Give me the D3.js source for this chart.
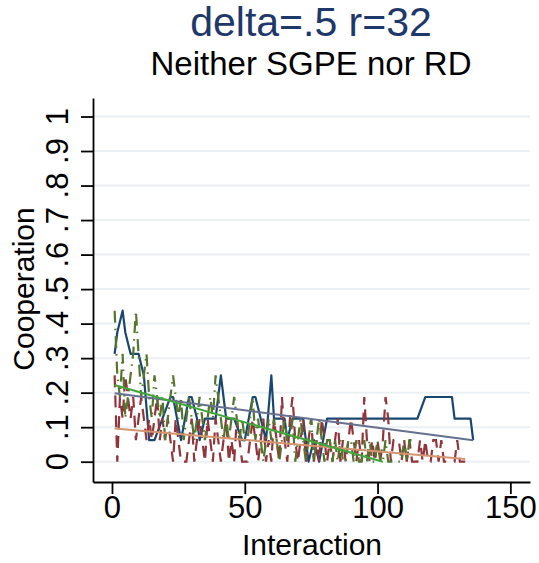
<!DOCTYPE html>
<html>
<head>
<meta charset="utf-8">
<script src="https://cdn.jsdelivr.net/npm/d3@7"></script>
<style>
  body { margin: 0; background: #fff; }
  svg { font-family: "Liberation Sans", Arial, sans-serif; }
</style>
</head>
<body>
<svg id="chart" width="539" height="563"></svg>
<script>
// Titoli
const titolo = "delta=.5 r=32";
const sottotitolo = "Neither SGPE nor RD";
const asseX = "Interaction";
const asseY = "Cooperation";

// Tick
const tickX = [0, 50, 100, 150];
const tickY = [0, .1, .2, .3, .4, .5, .6, .7, .8, .9, 1];
const tickYLabel = ["0", ".1", ".2", ".3", ".4", ".5", ".6", ".7", ".8", ".9", "1"];

// Serie blu (linea continua): vertici
const bluX = [1, 2, 4, 5, 7, 10, 12, 14, 16, 19, 22, 23, 26, 29, 30, 32, 33, 35, 39, 41, 43, 46, 49, 50,
  53, 54, 56, 58, 60, 61, 65, 66, 68, 72, 74, 76, 78, 81, 115, 118, 128, 129, 135, 136];
const bluY = [.3125, .375, .4375, .375, .3125, .3125, .25, .0625, .0625, .125, .1875, .1875, .0625, .1875, .1875, .125, .0625, .125, .125, .25, .125, .125, .0625, .0625,
  .1875, .1875, .125, .0625, .25, .125, .125, .0625, .125, .125, 0, .0625, 0, .125, .125, .1875, .1875, .125, .125, .0625];

// Serie granata (tratteggiata), interazioni 1..133
const granataY = [
  .25, 0, .1875, .125, .25, .1875, .125, .1875, .0625, .125,
  .1875, .125, .0625, .125, .0625, .125, .1875, .0625, .125, .0625,
  .125, .0625, 0, .125, .0625, 0, 0, 0, .0625, .125,
  0, .0625, .125, .0625, 0, .125, .0625, 0, .125, .0625,
  0, .0625, .125, 0, .0625, 0, .125, .0625, 0, 0,
  0, .0625, .125, .0625, 0, .0625, .125, 0, .0625, 0,
  .125, .0625, 0, .1875, .0625, 0, .125, .1875, .0625, 0,
  .0625, .125, 0, .0625, .125, 0, .0625, 0, .125, .0625,
  0, .0625, 0, .0625, .125, 0, .0625, 0, .0625, .125,
  .0625, 0, .0625, 0, .1875, .0625, 0, .0625, 0, .0625,
  0, .0625, .1875, .125, 0, .0625, .0625, .0625, 0, .0625,
  0, .0625, 0, 0, 0, .0625, 0, .0625, 0, 0,
  .0625, .0625, 0, .0625, 0, 0, 0, 0, 0, .0625,
  0, 0, 0
];

// Serie verde (tratto-punto), interazioni 1..113
const verdeY = [
  .4375, .25, .1875, .3125, .125, .1875, .25, .3125, .4375, .3125,
  .1875, .25, .3125, .1875, .125, .25, .1875, .125, .1875, .0625,
  .125, .1875, .25, .1875, .125, .1875, .0625, .125, .1875, .125,
  .0625, .125, .1875, .125, .0625, .125, .1875, .125, .25, .1875,
  .125, .0625, .125, .0625, .125, .1875, .125, .0625, .125, .0625,
  .0625, .125, .1875, .0625, .125, .0625, 0, .0625, .125, .0625,
  .125, .0625, 0, .0625, .125, .0625, .0625, .125, 0, .0625,
  .125, .0625, 0, .0625, .125, 0, .0625, .125, .0625, 0,
  .0625, .0625, 0, .0625, 0, .0625, 0, 0, .0625, .0625,
  0, .0625, 0, 0, .0625, 0, .0625, 0, 0, .0625,
  0, 0, .0625, 0, 0, 0, 0, 0, 0, .0625,
  0, .0625, .0625
];

// Rette di regressione (estremi)
const fitBluX = [1, 136];
const fitBluY = [.198, .062];
const fitGranataX = [1, 133];
const fitGranataY = [.096, .008];
const fitVerdeX = [1, 102];
const fitVerdeY = [.222, 0];

const svg = d3.select("#chart");

// Scale: l'area del grafico va oltre 0..150 e 0..1
const x = d3.scaleLinear().domain([-7.15, 157.4]).range([93, 530]);
const y = d3.scaleLinear().domain([-0.0588, 1.0536]).range([482, 98]);

// Griglia
svg.append("g")
  .selectAll("line")
  .data(tickY)
  .enter()
  .append("line")
  .attr("x1", x.range()[0])
  .attr("x2", x.range()[1])
  .attr("y1", d => y(d))
  .attr("y2", d => y(d))
  .attr("stroke", "#eaf0f3")
  .attr("stroke-width", 2);

// Asse Y
const gY = svg.append("g")
  .attr("transform", "translate(93,0)")
  .call(d3.axisLeft(y).tickValues(tickY).tickSize(12).tickSizeOuter(0).tickFormat(""));
gY.select(".domain").attr("stroke", "#000").attr("stroke-width", 1.8);
gY.selectAll(".tick line").attr("stroke", "#000").attr("stroke-width", 1.8);

svg.append("g")
  .selectAll("text")
  .data(tickY)
  .enter()
  .append("text")
  .attr("transform", (d) => "translate(68," + y(d) + ") rotate(-90)")
  .attr("text-anchor", "middle")
  .attr("font-size", 31)
  .text((d, i) => tickYLabel[i]);

// Asse X
const gX = svg.append("g")
  .attr("transform", "translate(0,482)")
  .call(d3.axisBottom(x).tickValues(tickX).tickSize(12).tickSizeOuter(0).tickFormat(d => d));
gX.select(".domain").attr("stroke", "#000").attr("stroke-width", 1.8);
gX.selectAll(".tick line").attr("stroke", "#000").attr("stroke-width", 1.8);
gX.selectAll(".tick text")
  .attr("font-size", 31)
  .attr("font-family", "Liberation Sans, Arial, sans-serif")
  .attr("fill", "#000")
  .attr("y", 14)
  .attr("dy", "0.71em");

// Etichette assi
svg.append("text")
  .attr("x", 312)
  .attr("y", 555)
  .attr("text-anchor", "middle")
  .attr("font-size", 30)
  .text(asseX);

svg.append("text")
  .attr("transform", "translate(34,289) rotate(-90)")
  .attr("text-anchor", "middle")
  .attr("font-size", 30)
  .text(asseY);

// Titoli
svg.append("text")
  .attr("x", 311)
  .attr("y", 36)
  .attr("text-anchor", "middle")
  .attr("font-size", 41)
  .attr("fill", "#1e3869")
  .text(titolo);

svg.append("text")
  .attr("x", 311)
  .attr("y", 75)
  .attr("text-anchor", "middle")
  .attr("font-size", 33)
  .attr("fill", "#000")
  .text(sottotitolo);

// Linee
const line = d3.line()
  .x(d => x(d[0]))
  .y(d => y(d[1]));

function coppie(xs, ys) {
  return ys.map((v, i) => [xs ? xs[i] : i + 1, v]);
}

svg.append("path")
  .datum(coppie(bluX, bluY))
  .attr("d", line)
  .attr("fill", "none")
  .attr("stroke", "#1a476f")
  .attr("stroke-width", 2.2)
  .attr("stroke-linejoin", "round");

svg.append("path")
  .datum(coppie(null, granataY))
  .attr("d", line)
  .attr("fill", "none")
  .attr("stroke", "#90353b")
  .attr("stroke-width", 2.2)
  .attr("stroke-dasharray", "12,8");

svg.append("path")
  .datum(coppie(null, verdeY))
  .attr("d", line)
  .attr("fill", "none")
  .attr("stroke", "#55752f")
  .attr("stroke-width", 2.2)
  .attr("stroke-dasharray", "12,6,1.5,6");

svg.append("path")
  .datum(coppie(fitBluX, fitBluY))
  .attr("d", line)
  .attr("fill", "none")
  .attr("stroke", "#66708f")
  .attr("stroke-width", 2);

svg.append("path")
  .datum(coppie(fitGranataX, fitGranataY))
  .attr("d", line)
  .attr("fill", "none")
  .attr("stroke", "#d4956f")
  .attr("stroke-width", 2);

svg.append("path")
  .datum(coppie(fitVerdeX, fitVerdeY))
  .attr("d", line)
  .attr("fill", "none")
  .attr("stroke", "#42a63c")
  .attr("stroke-width", 2);
</script>
</body>
</html>
